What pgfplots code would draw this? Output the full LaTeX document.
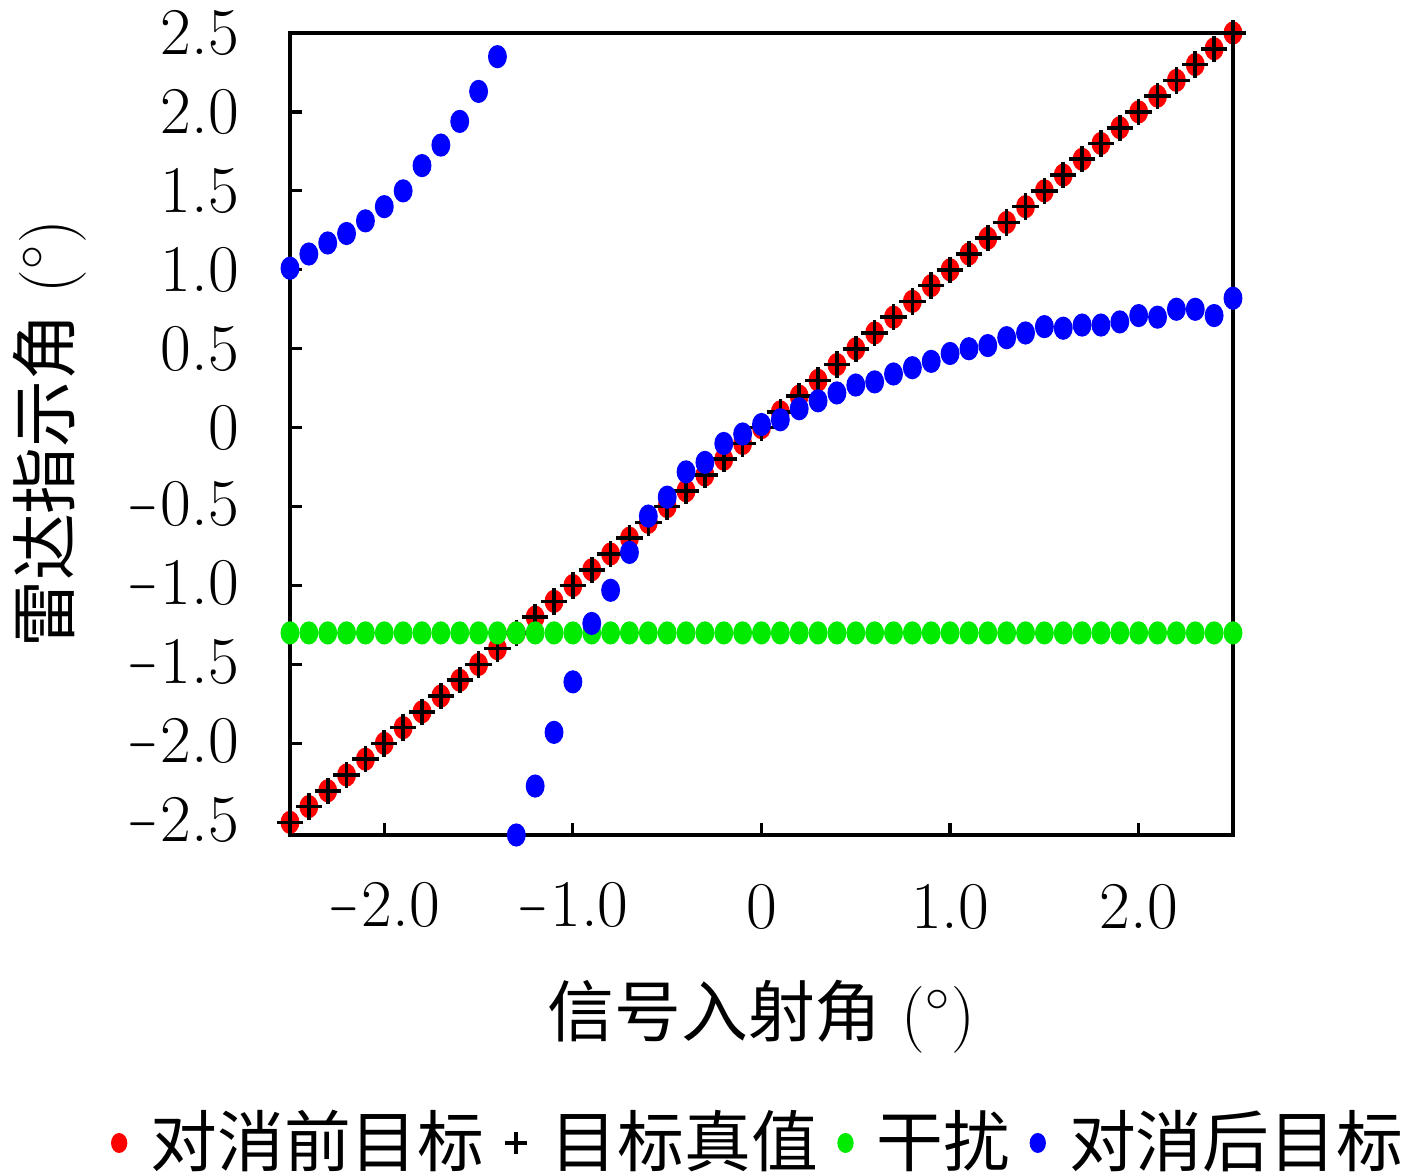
\documentclass[border=0pt]{standalone}
\usepackage{fontspec}
\usepackage{graphicx}
\usepackage{pgfplots}
\usepackage{pgfplotstable}
\pgfplotsset{compat=1.18}
\newfontfamily\cjk{Noto Sans CJK SC}
\newcommand\mn{\scalebox{0.57}[1]{$-$}\kern0.6pt}

\pgfplotstableread{
x t j b
-2.5 -2.5 -1.3 1.01
-2.4 -2.4 -1.3 1.10
-2.3 -2.3 -1.3 1.17
-2.2 -2.2 -1.3 1.23
-2.1 -2.1 -1.3 1.31
-2.0 -2.0 -1.3 1.40
-1.9 -1.9 -1.3 1.50
-1.8 -1.8 -1.3 1.66
-1.7 -1.7 -1.3 1.79
-1.6 -1.6 -1.3 1.94
-1.5 -1.5 -1.3 2.13
-1.4 -1.4 -1.3 2.35
-1.3 -1.3 -1.3 -2.58
-1.2 -1.2 -1.3 -2.27
-1.1 -1.1 -1.3 -1.93
-1.0 -1.0 -1.3 -1.61
-0.9 -0.9 -1.3 -1.24
-0.8 -0.8 -1.3 -1.03
-0.7 -0.7 -1.3 -0.79
-0.6 -0.6 -1.3 -0.56
-0.5 -0.5 -1.3 -0.44
-0.4 -0.4 -1.3 -0.28
-0.3 -0.3 -1.3 -0.22
-0.2 -0.2 -1.3 -0.10
-0.1 -0.1 -1.3 -0.04
0.0 0.0 -1.3 0.02
0.1 0.1 -1.3 0.05
0.2 0.2 -1.3 0.12
0.3 0.3 -1.3 0.17
0.4 0.4 -1.3 0.22
0.5 0.5 -1.3 0.27
0.6 0.6 -1.3 0.29
0.7 0.7 -1.3 0.34
0.8 0.8 -1.3 0.38
0.9 0.9 -1.3 0.42
1.0 1.0 -1.3 0.47
1.1 1.1 -1.3 0.50
1.2 1.2 -1.3 0.52
1.3 1.3 -1.3 0.57
1.4 1.4 -1.3 0.60
1.5 1.5 -1.3 0.64
1.6 1.6 -1.3 0.63
1.7 1.7 -1.3 0.65
1.8 1.8 -1.3 0.65
1.9 1.9 -1.3 0.67
2.0 2.0 -1.3 0.71
2.1 2.1 -1.3 0.70
2.2 2.2 -1.3 0.75
2.3 2.3 -1.3 0.75
2.4 2.4 -1.3 0.71
2.5 2.5 -1.3 0.82
}\datatable

\begin{document}
\fontsize{16.7}{20}\selectfont
\begin{tikzpicture}
\useasboundingbox (-72.5pt,-85pt) rectangle (281.75pt,208.75pt);
\begin{axis}[
  at={(0,0)}, anchor=south west,
  scale only axis, width=235.75pt, height=200.5pt,
  xmin=-2.5, xmax=2.5, ymin=-2.58, ymax=2.5,
  clip=false,
  axis line style={line width=0.8pt},
  xtick={-2,-1,0,1,2},
  xticklabels={\mn 2.0,\mn 1.0,0,1.0,2.0},
  ytick={-2.5,-2,-1.5,-1,-0.5,0,0.5,1,1.5,2,2.5},
  yticklabels={\mn 2.5,\mn 2.0,\mn 1.5,\mn 1.0,\mn 0.5,0,0.5,1.0,1.5,2.0,2.5},
  tick pos=left, tick align=inside, major tick length=3pt,
  tick style={line width=0.8pt, black},
  xticklabel style={anchor=center, yshift=-18pt},
  yticklabel style={xshift=-7pt},
  xlabel={{\cjk 信号入射角} ($^\circ$)},
  ylabel={{\cjk 雷达指示角} ($^\circ$)},
  every axis x label/.style={at={([yshift=-45.5pt]axis description cs:0.5,0)}, anchor=center},
  every axis y label/.style={at={([xshift=-60pt]axis description cs:0,0.5)}, anchor=center, rotate=90},
  legend style={at={([yshift=-77pt]axis description cs:0.5,0)}, anchor=center,
    draw=none, fill=none, legend columns=-1, font=\cjk,
    /tikz/every odd column/.append style={column sep=4pt},
    /tikz/every even column/.append style={column sep=3pt}},
  legend image code/.code={\draw[#1, every mark/.append style={scale=0.85}] plot coordinates {(0cm,0cm)};},
]
\addplot[only marks, mark=*, mark size=2.7pt, color=red, mark options={xscale=0.8}] table[x=x, y=t] {\datatable};
\addlegendentry{对消前目标}
\addplot[only marks, mark=+, mark size=3.3pt, color=black, mark options={line width=0.9pt}] table[x=x, y=t] {\datatable};
\addlegendentry{目标真值}
\addplot[only marks, mark=*, mark size=2.7pt, color={rgb,255:red,0;green,235;blue,0}, mark options={xscale=0.8}] table[x=x, y=j] {\datatable};
\addlegendentry{干扰}
\addplot[only marks, mark=*, mark size=2.7pt, color=blue, mark options={xscale=0.8}] table[x=x, y=b] {\datatable};
\addlegendentry{对消后目标}
\end{axis}
\end{tikzpicture}
\end{document}
